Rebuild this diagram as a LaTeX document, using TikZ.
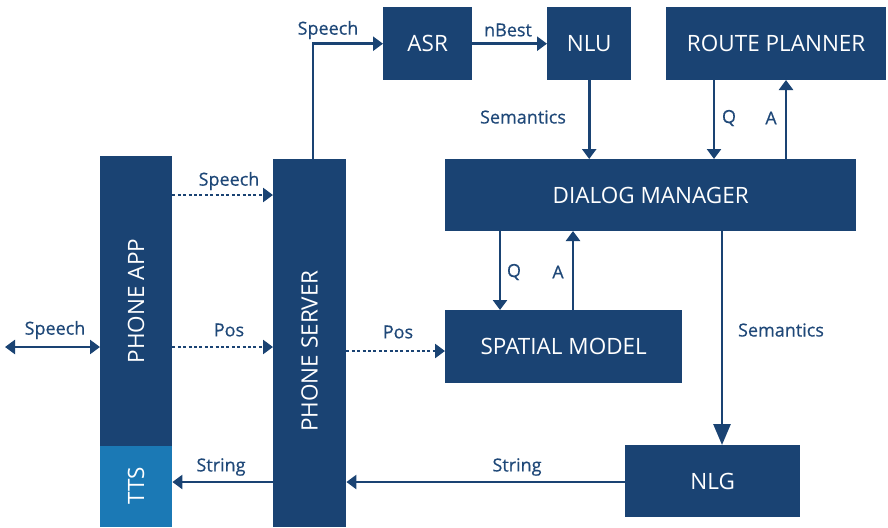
\documentclass[tikz,border=0pt]{standalone}
\usepackage{fontspec}
\setmainfont{Open Sans}
\newfontfamily\lblfont{Open Sans}[FakeBold=0.5]
\usetikzlibrary{arrows.meta}
\definecolor{dblue}{HTML}{1A4373}
\definecolor{lblue}{HTML}{1B79B5}
\definecolor{tblue}{HTML}{1F4878}
\tikzset{
  box/.style={fill=dblue, text=white, inner sep=0pt, font=\fontsize{22.5}{26}\selectfont},
  vtext/.style={rotate=90, text=white, inner sep=0pt, font=\fontsize{22.5}{26}\selectfont},
  conn/.style={draw=dblue, line width=2.8pt, -{Triangle[width=14pt,length=10pt]}},
  dconn/.style={conn, dash pattern=on 3pt off 2.4pt},
  lbl/.style={text=tblue, font=\lblfont\fontsize{18}{21}\selectfont, inner sep=0pt},
}
\begin{document}
\begin{tikzpicture}[x=1pt,y=-1pt]
\useasboundingbox (0,0) rectangle (888,527);
% boxes
\node[box, anchor=north west, minimum width=89pt, minimum height=73pt] (asr) at (383,7) {ASR};
\node[box, anchor=north west, minimum width=84pt, minimum height=73pt] (nlu) at (547,7) {NLU};
\node[box, anchor=north west, minimum width=220pt, minimum height=73pt] (rp) at (666,7) {ROUTE PLANNER};
\node[box, anchor=north west, minimum width=411pt, minimum height=72pt] (dm) at (445,159) {DIALOG MANAGER};
\node[box, anchor=north west, minimum width=237pt, minimum height=73pt] (sm) at (445,310) {SPATIAL MODEL};
\node[box, anchor=north west, minimum width=175pt, minimum height=72pt] (nlg) at (625,445) {NLG};
\node[box, anchor=north west, minimum width=72pt, minimum height=290pt] (app) at (100,156) {};
\node[vtext] at (136,301) {PHONE APP};
\node[box, fill=lblue, anchor=north west, minimum width=72pt, minimum height=81pt] (tts) at (100,446) {};
\node[vtext] at (136,486) {TTS};
\node[box, anchor=north west, minimum width=73pt, minimum height=368pt] (srv) at (273,159) {};
\node[vtext] at (309.5,351) {PHONE SERVER};
% connectors
\coordinate (srvtop) at (313,159);
\draw[conn] (srvtop) |- (asr.west);
\draw[conn] (asr) -- (nlu);
\draw[conn] (nlu.south) -- (dm.north -| nlu.south);
\draw[conn] (714,80) -- (714,159);
\draw[conn] (786,159) -- (786,80);
\draw[conn] (500,231) -- (500,310);
\draw[conn] (573,310) -- (573,231);
\draw[conn, -{Triangle[width=17pt,length=21pt]}] (722,231) -- (722,445);
\draw[conn] (nlg.west |- 0,482) -- (srv.east |- 0,482);
\draw[conn] (srv.west |- 0,482) -- (tts.east |- 0,482);
\draw[dconn] (app.east |- 0,195) -- (srv.west |- 0,195);
\draw[dconn] (app.east |- 0,347) -- (srv.west |- 0,347);
\draw[dconn] (srv.east |- 0,351) -- (sm.west |- 0,351);
\coordinate (spk) at (5,347);
\draw[conn, {Triangle[width=14pt,length=10pt]}-{Triangle[width=14pt,length=10pt]}] (spk) -- (app.west |- spk);
% labels
\node[lbl] at (328,30) {Speech};
\node[lbl] at (508,30) {nBest};
\node[lbl] at (523,117) {Semantics};
\node[lbl] at (729,118) {Q};
\node[lbl] at (771,118) {A};
\node[lbl] at (229,181) {Speech};
\node[lbl] at (229,330) {Pos};
\node[lbl] at (398,332) {Pos};
\node[lbl] at (55,330) {Speech};
\node[lbl] at (514,272) {Q};
\node[lbl] at (558,272) {A};
\node[lbl] at (781,330) {Semantics};
\node[lbl] at (517,467) {String};
\node[lbl] at (221,467) {String};
\end{tikzpicture}
\end{document}
